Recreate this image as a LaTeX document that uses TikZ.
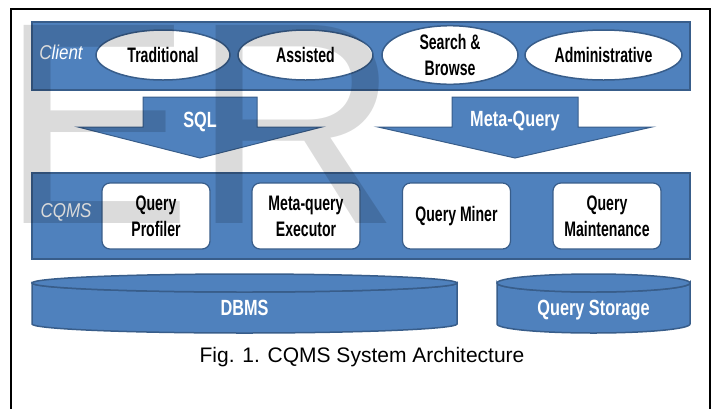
\documentclass[tikz,border=0pt]{standalone}
\usepackage{fontspec}
\setmainfont{Liberation Sans}
\newfontfamily\boxfont[FakeStretch=0.67]{Liberation Sans}
\newfontfamily\tagfont[FakeStretch=0.74]{Liberation Sans}
\newfontfamily\sidefont[FakeStretch=0.85]{Liberation Sans}
\usetikzlibrary{shapes.geometric}
\definecolor{bandblue}{RGB}{79,129,189}
\definecolor{edgeblue}{RGB}{56,93,138}

\tikzset{
  band/.style={draw=edgeblue, line width=1.5pt, fill=bandblue, minimum width=658, inner sep=0},
  side/.style={text=white, font=\sidefont\fontsize{20}{24}\selectfont\itshape},
  client/.style={ellipse, draw=edgeblue, line width=1.5pt, fill=white, minimum height=50, inner sep=0,
    align=center, font=\boxfont\fontsize{21}{26}\selectfont\bfseries},
  part/.style={draw=edgeblue, line width=1.2pt, fill=white, rounded corners=8pt, minimum width=108,
    minimum height=66, inner sep=0, align=center, font=\boxfont\fontsize{21}{26}\selectfont\bfseries},
  blockarrow/.style={draw=edgeblue, line width=1pt, fill=bandblue},
  tag/.style={text=white, font=\tagfont\fontsize{22}{26}\selectfont\bfseries},
  store/.style={draw=edgeblue, line width=1.5pt, fill=bandblue}
}

\begin{document}
\begin{tikzpicture}[x=1pt, y=-1pt]
\useasboundingbox (0,0) rectangle (715,408);

% frame
\draw[line width=1.5pt] (11,412) -- (11,9) -- (710,9) -- (710,412);

% client layer
\node[band, minimum height=68] (clientband) at (361,56) {};
\node[side] (clienttag) at (61,52) {Client};
\node[client, minimum width=134] (trad) at (163,55) {Traditional};
\node[client, minimum width=135] (assist) at (305.5,55) {Assisted};
\node[client, minimum width=136] (search) at (450,55) {Search \&\\Browse};
\node[client, minimum width=157] (admin) at (603.5,55) {Administrative};

% query flow
\draw[blockarrow] (143,97) -- (257,97) -- (257,127) -- (322,127) -- (200,158)
  -- (78,127) -- (143,127) -- cycle;
\draw[blockarrow] (452,97) -- (578,97) -- (578,127) -- (652,127) -- (515,158)
  -- (378,127) -- (452,127) -- cycle;
\node[tag, anchor=base] (sql) at (200,127) {SQL};
\node[tag, anchor=base] (meta) at (515,126) {Meta-Query};

% CQMS layer
\node[band, minimum height=86] (cqmsband) at (361,216) {};
\node[side] (cqmstag) at (66,212) {CQMS};
\node[part] (prof) at (156,216) {Query\\Profiler};
\node[part] (exec) at (306,216) {Meta-query\\Executor};
\node[part] (miner) at (456.5,216) {Query Miner};
\node[part] (maint) at (607,216) {Query\\Maintenance};

% storage
\draw[store] (32,283) -- (32,324) arc[start angle=180, end angle=0, x radius=212.5, y radius=9]
  -- (457,283) arc[start angle=0, end angle=180, x radius=212.5, y radius=9] -- cycle;
\draw[store] (244.5,283) ellipse[x radius=212.5, y radius=9];
\draw[store] (497,283) -- (497,324) arc[start angle=180, end angle=0, x radius=96.5, y radius=9]
  -- (690,283) arc[start angle=0, end angle=180, x radius=96.5, y radius=9] -- cycle;
\draw[store] (593.5,283) ellipse[x radius=96.5, y radius=9];
\node[tag] (dbms) at (244.5,308) {DBMS};
\node[tag] (qstore) at (593.5,310) {Query Storage};

\node (caption) at (362,357) {\fontsize{21}{25}\selectfont Fig. 1. CQMS System Architecture};

% watermark
\node[anchor=base west, inner sep=0, text=black, text opacity=0.14] (mark) at (0,223)
  {\fontsize{288}{288}\selectfont ER};
\end{tikzpicture}
\end{document}
